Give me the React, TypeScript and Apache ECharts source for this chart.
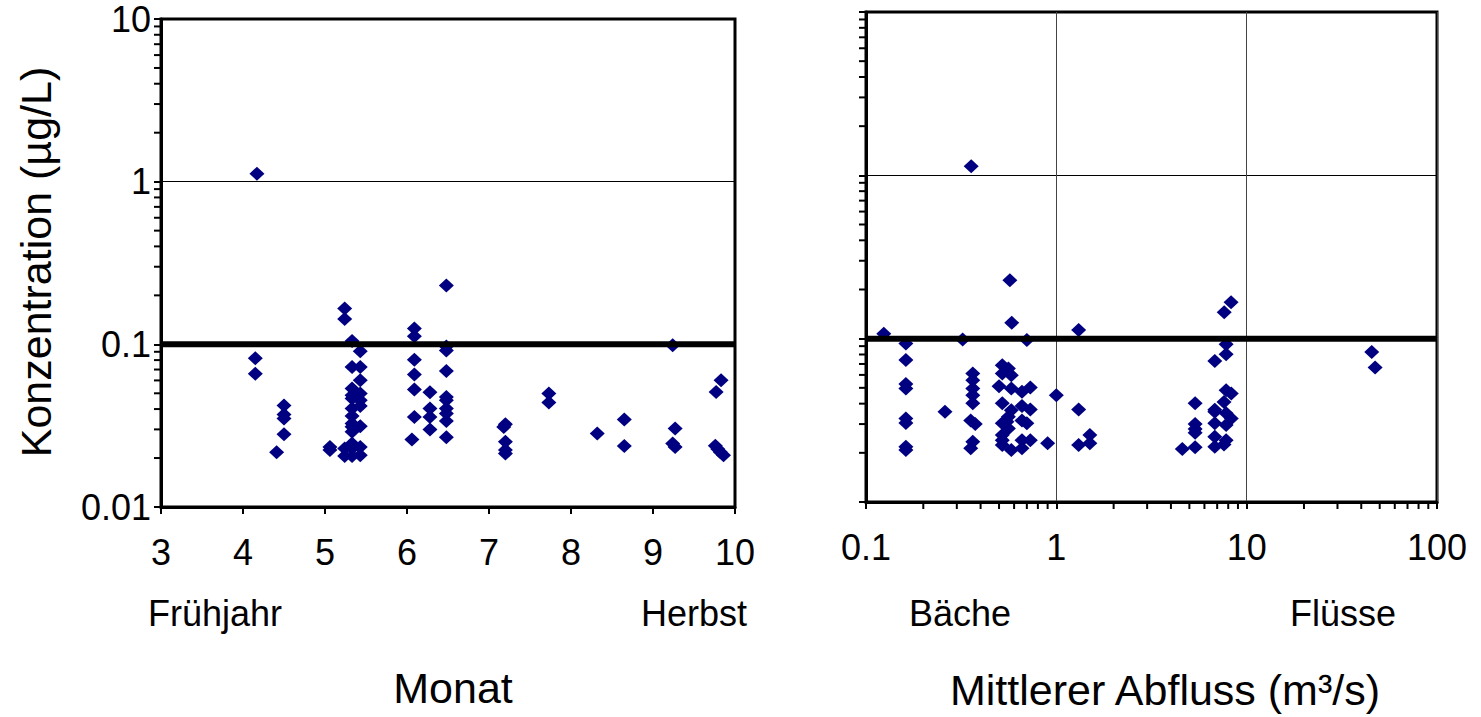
import React, { useEffect, useRef } from "react";
import * as echarts from "echarts";

// Left panel: month vs. concentration
const leftMonth = [
  4.17, 4.15, 4.15, 4.5, 4.5, 4.5, 4.5, 4.41, 5.06, 5.06,
  5.24, 5.24, 5.24, 5.24, 5.33, 5.33, 5.33, 5.33, 5.33, 5.33,
  5.33, 5.33, 5.33, 5.33, 5.33, 5.33, 5.33, 5.43, 5.43, 5.43,
  5.43, 5.43, 5.43, 5.43, 5.43, 5.43, 6.09, 6.09, 6.09, 6.09,
  6.09, 6.09, 6.06, 6.28, 6.28, 6.28, 6.28, 6.48, 6.48, 6.48,
  6.48, 6.48, 6.48, 6.48, 6.48, 6.48, 6.48, 7.2, 7.18, 7.2,
  7.2, 7.2, 7.73, 7.73, 8.32, 8.65, 8.65, 9.24, 9.27, 9.24,
  9.27, 9.83, 9.77, 9.76, 9.79, 9.82, 9.86,
];
const leftConc = [
  1.12, 0.082, 0.066, 0.042, 0.037, 0.035, 0.028, 0.0217, 0.0234, 0.0224,
  0.166, 0.143, 0.0229, 0.0206, 0.105, 0.0726, 0.0535, 0.0486, 0.0464, 0.0403,
  0.0362, 0.0326, 0.0311, 0.029, 0.0246, 0.0229, 0.0206, 0.0906, 0.0726, 0.0601,
  0.0499, 0.0453, 0.0417, 0.0314, 0.0234, 0.0208, 0.125, 0.112, 0.0805, 0.0652,
  0.0527, 0.0358, 0.026, 0.0508, 0.0403, 0.0358, 0.03, 0.23, 0.097, 0.0918,
  0.0686, 0.0475, 0.0453, 0.0403, 0.0376, 0.0338, 0.0268, 0.0323, 0.031, 0.0252,
  0.0224, 0.0213, 0.0499, 0.0439, 0.0283, 0.0345, 0.0237, 0.0986, 0.0304, 0.0246,
  0.0234, 0.0601, 0.051, 0.0238, 0.0227, 0.0218, 0.0208,
];

// Right panel: mean discharge vs. concentration
const rightFlow = [
  0.124, 0.162, 0.162, 0.162, 0.162, 0.162, 0.162, 0.162, 0.162, 0.26,
  0.322, 0.357, 0.364, 0.364, 0.364, 0.364, 0.364, 0.355, 0.375, 0.364,
  0.355, 0.57, 0.583, 0.7, 0.52, 0.56, 0.58, 0.52, 0.5, 0.58,
  0.52, 0.58, 0.56, 0.55, 0.52, 0.56, 0.52, 0.52, 0.52, 0.58,
  0.66, 0.73, 0.66, 0.73, 0.66, 0.7, 0.66, 0.73, 0.66, 1.0,
  0.9, 1.31, 1.31, 1.31, 1.5, 1.5, 8.28, 7.62, 7.8, 7.8,
  6.8, 7.8, 8.3, 7.6, 5.36, 6.8, 6.8, 7.8, 8.3, 7.8,
  6.8, 5.36, 5.36, 5.36, 4.59, 5.36, 6.8, 6.8, 7.8, 7.6,
  45.4, 47.3,
];
const rightConc = [
  0.107, 0.0935, 0.0739, 0.0527, 0.0496, 0.0325, 0.0305, 0.0218, 0.0208, 0.0357,
  0.0988, 1.135, 0.0612, 0.0557, 0.0496, 0.0451, 0.0402, 0.0315, 0.03, 0.0234,
  0.0213, 0.228, 0.125, 0.098, 0.0688, 0.0657, 0.0597, 0.0612, 0.0512, 0.0496,
  0.0402, 0.0365, 0.0333, 0.031, 0.0303, 0.0282, 0.0257, 0.0239, 0.0223, 0.0208,
  0.0473, 0.0503, 0.0387, 0.0369, 0.0315, 0.0303, 0.0239, 0.0239, 0.0213, 0.0451,
  0.0229, 0.113, 0.0369, 0.0223, 0.0257, 0.0229, 0.167, 0.145, 0.0925, 0.0804,
  0.0731, 0.0484, 0.0462, 0.041, 0.0402, 0.0367, 0.0357, 0.0349, 0.0325, 0.0296,
  0.0303, 0.03, 0.028, 0.0265, 0.0211, 0.0216, 0.0251, 0.0218, 0.0239, 0.0225,
  0.083, 0.0667,
];

const threshold = 0.1;
const concDecades = [0.01, 0.1, 1];
const flowDecades = [0.1, 1, 10];
const minorFactors = [2, 3, 4, 5, 6, 7, 8, 9];

const FONT = "'Liberation Sans', Arial, sans-serif";
const NAVY = "#000080";

export default function App() {
  const ref = useRef<HTMLDivElement>(null);

  useEffect(() => {
    const chart = echarts.init(ref.current!, undefined, { renderer: "svg" });

    const axisLine = { show: true, lineStyle: { color: "#000", width: 3 } };
    const axisTick = { show: true, length: 7, inside: false, lineStyle: { color: "#000", width: 2 } };
    const label = { color: "#000", fontSize: 36, fontFamily: FONT };

    const option: any = {
      animation: false,
      backgroundColor: "#fff",
      grid: [
        { left: 161, top: 19, width: 574, height: 488, show: true, borderColor: "#000", borderWidth: 3, containLabel: false },
        { left: 866, top: 12, width: 571, height: 490, show: true, borderColor: "#000", borderWidth: 3, containLabel: false },
      ],
      xAxis: [
        {
          gridIndex: 0, type: "value", min: 3, max: 10, interval: 1,
          axisLine, axisTick, splitLine: { show: false },
          axisLabel: { ...label, margin: 27 },
        },
        {
          gridIndex: 1, type: "log", logBase: 10, min: 0.1, max: 100,
          axisLine, axisTick,
          splitLine: { show: true, lineStyle: { color: "#444", width: 1 } },
          axisLabel: { ...label, margin: 27, formatter: (v: number) => String(v) },
        },
      ],
      yAxis: [
        {
          gridIndex: 0, type: "log", logBase: 10, min: 0.01, max: 10,
          axisLine, axisTick,
          splitLine: { show: true, lineStyle: { color: "#000", width: 1 } },
          axisLabel: { ...label, margin: 10, formatter: (v: number) => String(v) },
        },
        {
          gridIndex: 1, type: "log", logBase: 10, min: 0.01, max: 10,
          axisLine, axisTick,
          splitLine: { show: true, lineStyle: { color: "#000", width: 1 } },
          axisLabel: { show: false },
        },
      ],
      series: [
        {
          type: "line", xAxisIndex: 0, yAxisIndex: 0, symbol: "none", silent: true,
          data: [[3, threshold], [10, threshold]],
          lineStyle: { color: "#000", width: 6 },
        },
        {
          type: "line", xAxisIndex: 1, yAxisIndex: 1, symbol: "none", silent: true,
          data: [[0.1, threshold], [100, threshold]],
          lineStyle: { color: "#000", width: 6 },
        },
        {
          type: "scatter", xAxisIndex: 0, yAxisIndex: 0, symbol: "diamond", symbolSize: [15, 14],
          itemStyle: { color: NAVY, opacity: 1 },
          data: leftMonth.map((m, i) => [m, leftConc[i]]),
        },
        {
          type: "scatter", xAxisIndex: 1, yAxisIndex: 1, symbol: "diamond", symbolSize: [15, 14],
          itemStyle: { color: NAVY, opacity: 1 },
          data: rightFlow.map((q, i) => [q, rightConc[i]]),
        },
      ],
    };
    chart.setOption(option);

    // minor log ticks via the library's own scales
    const graphics: any[] = [];
    const tickStyle = { stroke: "#000", lineWidth: 2 };
    for (const g of [0, 1]) {
      const x0 = g === 0 ? 3 : 0.1;
      for (const d of concDecades) {
        for (const f of minorFactors) {
          const p = chart.convertToPixel({ gridIndex: g } as any, [x0, d * f]) as number[];
          graphics.push({ type: "line", shape: { x1: p[0] - 7, y1: p[1], x2: p[0], y2: p[1] }, style: tickStyle, silent: true });
        }
      }
    }
    for (const d of flowDecades) {
      for (const f of minorFactors) {
        const p = chart.convertToPixel({ gridIndex: 1 } as any, [d * f, 0.01]) as number[];
        graphics.push({ type: "line", shape: { x1: p[0], y1: p[1], x2: p[0], y2: p[1] + 7 }, style: tickStyle, silent: true });
      }
    }

    const txt = (text: string, x: number, y: number, size: number, rotation = 0) => ({
      type: "text", x, y, rotation, silent: true,
      style: { text, fill: "#000", font: `${size}px ${FONT}`, textAlign: "center", textVerticalAlign: "middle" },
    });
    graphics.push(txt("Frühjahr", 215, 613, 36));
    graphics.push(txt("Herbst", 694, 613, 36));
    graphics.push(txt("Bäche", 960, 613, 36));
    graphics.push(txt("Flüsse", 1343, 613, 36));
    graphics.push(txt("Monat", 453, 688, 43));
    graphics.push(txt("Mittlerer Abfluss (m³/s)", 1165, 690, 43));
    graphics.push(txt("Konzentration (µg/L)", 36, 262, 43, Math.PI / 2));

    chart.setOption({ graphic: graphics });

    return () => chart.dispose();
  }, []);

  return (
    <div
      ref={ref}
      style={{ position: "fixed", left: 0, top: 0, width: 1481, height: 717, background: "#fff" }}
    />
  );
}
